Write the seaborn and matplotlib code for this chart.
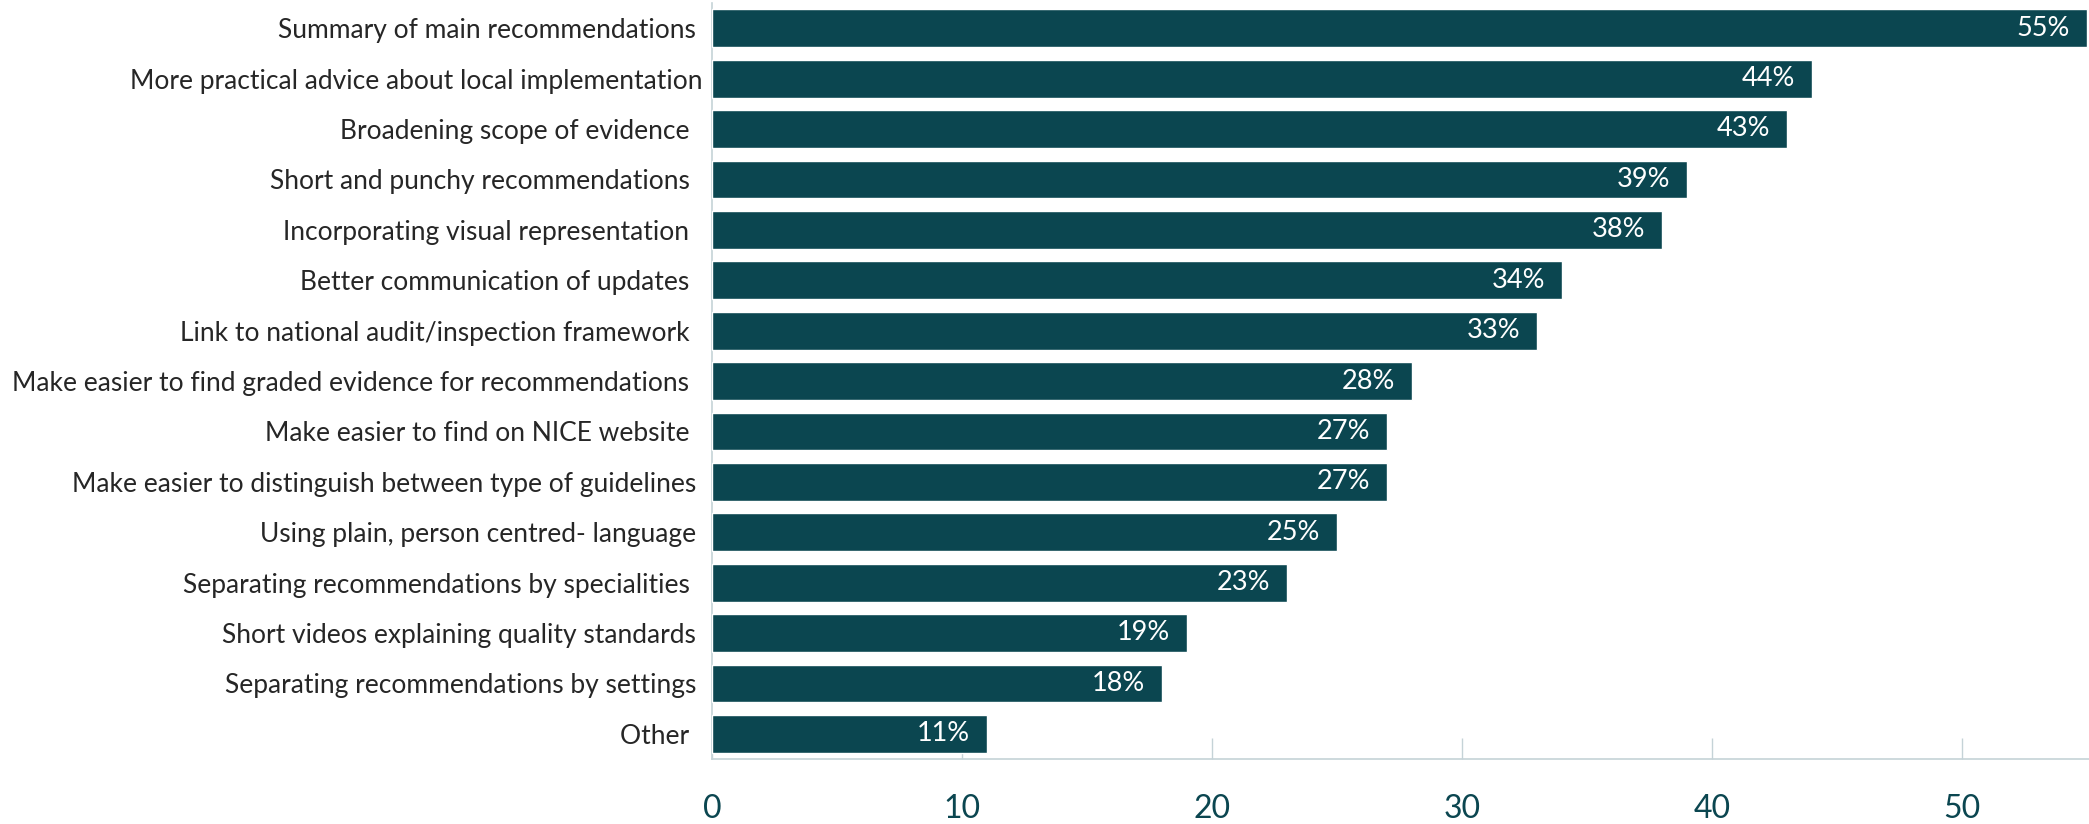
import matplotlib
matplotlib.use("Agg")
import matplotlib.pyplot as plt
import seaborn as sns
import pandas as pd

categories = [
    "Summary of main recommendations ",
    "More practical advice about local implementation",
    "Broadening scope of evidence  ",
    "Short and punchy recommendations  ",
    "Incorporating visual representation  ",
    "Better communication of updates  ",
    "Link to national audit/inspection framework  ",
    "Make easier to find graded evidence for recommendations  ",
    "Make easier to find on NICE website  ",
    "Make easier to distinguish between type of guidelines ",
    "Using plain, person centred- language ",
    "Separating recommendations by specialities  ",
    "Short videos explaining quality standards ",
    "Separating recommendations by settings ",
    "Other  ",
]
values = [55, 44, 43, 39, 38, 34, 33, 28, 27, 27, 25, 23, 19, 18, 11]
value_labels = [f"{v}%" for v in values]
x_ticks = [0, 10, 20, 30, 40, 50]

BAR = "#0b4650"
SPINE = "#c5d3d7"

sns.set_theme(style="white")
plt.rcParams["font.family"] = ["Lato", "DejaVu Sans"]

df = pd.DataFrame({"category": categories, "value": values})

fig = plt.figure(figsize=(20.89, 8.24), dpi=100)
ax = fig.add_axes([712 / 2089, 65 / 824, 1377 / 2089, 756 / 824])

sns.barplot(data=df, x="value", y="category", orient="h", color=BAR,
            saturation=1, width=0.75, ax=ax, zorder=3)

for i, (v, lab) in enumerate(zip(values, value_labels)):
    ax.annotate(lab, xy=(v, i), xytext=(-12, 0), textcoords="offset points",
                ha="right", va="center", color="white", fontsize=19.5,
                zorder=4)

ax.set_xlim(0, 55.08)
ax.set_ylim(14.5, -0.5)
ax.set_xticks(x_ticks)
ax.set_xlabel("")
ax.set_ylabel("")

for side in ("top", "right"):
    ax.spines[side].set_visible(False)
for side in ("left", "bottom"):
    ax.spines[side].set_color(SPINE)
    ax.spines[side].set_linewidth(1.2)

ax.tick_params(axis="x", bottom=True, direction="in", length=15, width=1,
               color=SPINE, labelsize=23, labelcolor=BAR, pad=25)
ax.tick_params(axis="y", left=False, length=0, labelsize=19,
               labelcolor="#262626", pad=6.5)

fig.savefig("out.png", dpi=100)
